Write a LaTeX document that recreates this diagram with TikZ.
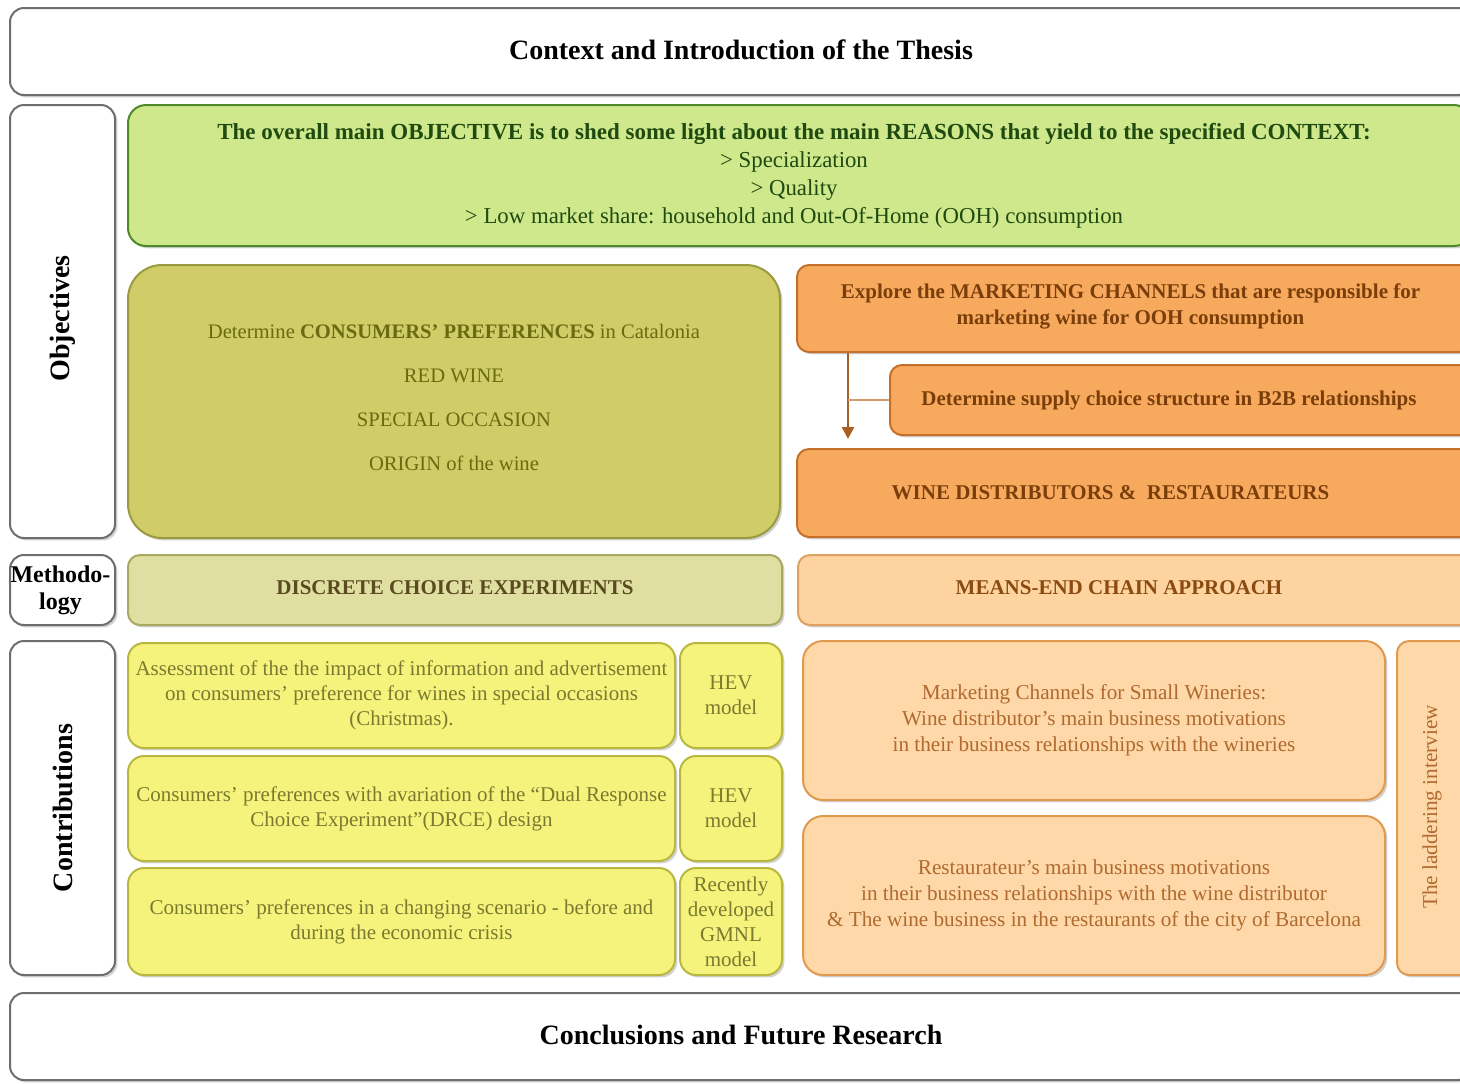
\documentclass[tikz,border=0pt]{standalone}
\usepackage{fontspec}
\setmainfont{Liberation Serif}
\usetikzlibrary{fit,shadows,arrows.meta}
\definecolor{graybd}{HTML}{6E6E6E}
\definecolor{greenfill}{HTML}{CFE88C}
\definecolor{greenbd}{HTML}{4F8A2A}
\definecolor{greentext}{HTML}{1F4A10}
\definecolor{olivefill}{HTML}{D0CD68}
\definecolor{olivebd}{HTML}{9A9A40}
\definecolor{olivetext}{HTML}{6A6A10}
\definecolor{orangefill}{HTML}{F7AA5E}
\definecolor{orangebd}{HTML}{C4702A}
\definecolor{orangetext}{HTML}{7A3E0A}
\definecolor{dcefill}{HTML}{E0DFA2}
\definecolor{dcebd}{HTML}{A8A860}
\definecolor{dcetext}{HTML}{5A4A20}
\definecolor{mecfill}{HTML}{FDD3A0}
\definecolor{mecbd}{HTML}{E0A060}
\definecolor{mectext}{HTML}{8A4A10}
\definecolor{yellowfill}{HTML}{F6F37C}
\definecolor{yellowbd}{HTML}{B8B840}
\definecolor{yellowtext}{HTML}{7A7A30}
\definecolor{lofill}{HTML}{FED8A8}
\definecolor{lobd}{HTML}{E09A50}
\definecolor{lotext}{HTML}{B06A30}
\begin{document}
\begin{tikzpicture}[x=0.5pt,y=-0.5pt,
  box/.style={rounded corners=6pt, line width=1pt, inner sep=0pt,
    drop shadow={shadow xshift=1.2pt,shadow yshift=-1.2pt,opacity=0.35}},
  txt/.style={inner sep=0pt, align=center},
  whitebox/.style={box, draw=graybd, fill=white, rounded corners=7pt},
  greenbox/.style={box, draw=greenbd, fill=greenfill, rounded corners=9pt},
  greentxt/.style={txt, text=greentext, font=\fontsize{11.4}{14}\selectfont},
  olivebox/.style={box, draw=olivebd, fill=olivefill, rounded corners=17pt},
  olivetxt/.style={txt, text=olivetext, font=\fontsize{10.3}{22}\selectfont},
  orangebox/.style={box, draw=orangebd, fill=orangefill},
  orangetxt/.style={txt, text=orangetext, font=\bfseries\fontsize{10.5}{13}\selectfont},
  dcebox/.style={box, draw=dcebd, fill=dcefill},
  dcetxt/.style={txt, text=dcetext, font=\bfseries\fontsize{10.5}{13}\selectfont},
  mecbox/.style={box, draw=mecbd, fill=mecfill},
  mectxt/.style={txt, text=mectext, font=\bfseries\fontsize{10.5}{13}\selectfont},
  yellowbox/.style={box, draw=yellowbd, fill=yellowfill, rounded corners=8pt},
  yellowtxt/.style={txt, text=yellowtext, font=\fontsize{10.5}{12.5}\selectfont},
  lobox/.style={box, draw=lobd, fill=lofill, rounded corners=10pt},
  lotxt/.style={txt, text=lotext, font=\fontsize{10.6}{13}\selectfont},
  lbl/.style={txt, font=\bfseries\fontsize{14}{15}\selectfont}
]
\clip (0,0) rectangle (1460,1083);
\fill[white] (0,0) rectangle (1460,1083);

% top and bottom
\node[whitebox, fit={(10,8) (1472,95)}] (title) {};
\node[lbl] (titletxt) at ([yshift=1pt]title.center) {Context and Introduction of the Thesis};
\node[whitebox, fit={(10,993) (1472,1080)}] (concl) {};
\node[lbl] (concltxt) at ([yshift=1pt]concl.center) {Conclusions and Future Research};

% side labels
\node[whitebox, fit={(10,105) (115,538)}] (obj) {};
\node[lbl, rotate=90] (objtxt) at ([yshift=1.5pt]obj.center) {Objectives};
\node[whitebox, fit={(10,555) (115,625)}] (meth) {};
\node[lbl, font=\bfseries\fontsize{12}{13.5}\selectfont] (methtxt) at ([xshift=-1pt]meth.center) {Methodo-\\logy};
\node[whitebox, fit={(10,641) (115,975)}] (contr) {};
\node[lbl, rotate=90] (contrtxt) at (contr.center) {Contributions};

% objectives
\node[greenbox, fit={(128,105) (1472,246)}] (goal) {};
\node[greentxt] (goaltxt) at ([xshift=-3pt,yshift=0pt]goal.center) {\textbf{\fontsize{11.5}{14}\selectfont The overall main OBJECTIVE is to shed some light about the main REASONS that yield to the specified CONTEXT:}\\
> Specialization\\ > Quality\\ > Low market share: household and Out-Of-Home (OOH) consumption};

\node[olivebox, fit={(128,265) (780,538)}] (cons) {};
\node[olivetxt] (constxt) at ([yshift=2pt]cons.center) {Determine \textbf{CONSUMERS' PREFERENCES} in Catalonia\\ RED WINE\\ SPECIAL OCCASION\\ ORIGIN of the wine};

\node[orangebox, fit={(797,265) (1472,352)}] (mkt) {};
\node[orangetxt] (mkttxt) at ([xshift=-2pt,yshift=1pt]mkt.center) {Explore the MARKETING CHANNELS that are responsible for\\ marketing wine for OOH consumption};
\node[orangebox, fit={(890,365) (1472,435)}] (supply) {};
\node[orangetxt] (supplytxt) at ([xshift=-6pt]supply.center) {Determine supply choice structure in B2B relationships};
\node[orangebox, fit={(797,449) (1472,537)}] (wdr) {};
\node[orangetxt] (wdrtxt) at ([xshift=-12pt]wdr.center) {WINE DISTRIBUTORS \&\ \ RESTAURATEURS};

\coordinate (ax) at (848,0);
\draw[orangebd!85!black, line width=1.2pt, -{Triangle[length=6pt,width=6pt]}] (mkt.south -| ax) -- ([yshift=4.5pt]wdr.north -| ax);
\draw[orangebd!70, line width=1.2pt] (supply.west) -- (supply.west -| ax);

% methodology
\node[dcebox, fit={(128,555) (782,625)}] (dce) {};
\node[dcetxt] (dcetxt) at ([yshift=1pt]dce.center) {DISCRETE CHOICE EXPERIMENTS};
\node[mecbox, fit={(798,555) (1472,625)}] (mec) {};
\node[mectxt] (mectxt) at ([xshift=-8pt,yshift=1pt]mec.center) {MEANS-END CHAIN APPROACH};

% contributions left
\node[yellowbox, fit={(128,643) (675,748)}] (c1) {};
\node[yellowtxt] (c1t) at (c1.center) {Assessment of the the impact of information and advertisement\\ on consumers' preference for wines in special occasions\\ (Christmas).};
\node[yellowbox, fit={(680,643) (782,748)}] (m1) {};
\node[yellowtxt] (m1t) at (m1.center) {HEV\\ model};
\node[yellowbox, fit={(128,756) (675,861)}] (c2) {};
\node[yellowtxt] (c2t) at (c2.center) {Consumers' preferences with avariation of the “Dual Response\\ Choice Experiment”(DRCE) design};
\node[yellowbox, fit={(680,756) (782,861)}] (m2) {};
\node[yellowtxt] (m2t) at (m2.center) {HEV\\ model};
\node[yellowbox, fit={(128,868) (675,975)}] (c3) {};
\node[yellowtxt] (c3t) at (c3.center) {Consumers' preferences in a changing scenario - before and\\ during the economic crisis};
\node[yellowbox, fit={(680,868) (782,975)}] (m3) {};
\node[yellowtxt] (m3t) at (m3.center) {Recently\\ developed\\ GMNL\\ model};

% contributions right
\node[lobox, fit={(803,641) (1385,800)}] (r1) {};
\node[lotxt] (r1t) at (r1.center) {Marketing Channels for Small Wineries:\\ Wine distributor's main business motivations\\ in their business relationships with the wineries};
\node[lobox, fit={(803,816) (1385,975)}] (r2) {};
\node[lotxt] (r2t) at (r2.center) {Restaurateur's main business motivations\\ in their business relationships with the wine distributor\\ \& The wine business in the restaurants of the city of Barcelona};
\node[lobox, rounded corners=6pt, fit={(1397,641) (1472,975)}] (ladder) {};
\node[lotxt, rotate=90] (laddert) at (1432,807) {The laddering interview};
\end{tikzpicture}
\end{document}
